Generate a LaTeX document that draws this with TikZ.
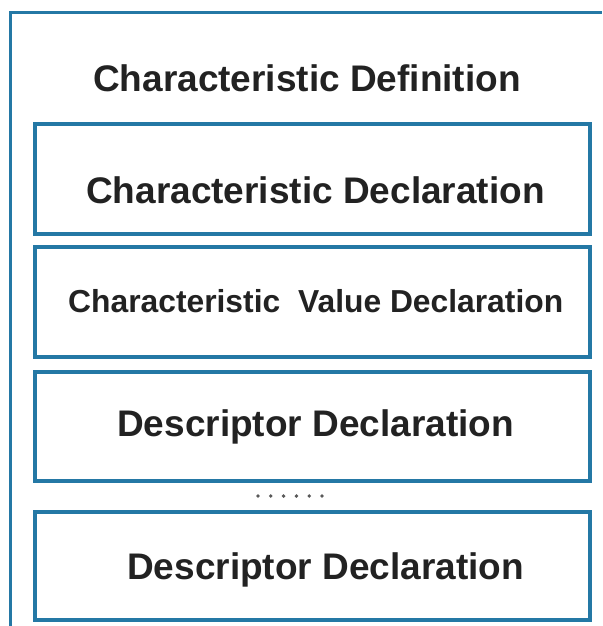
\documentclass[tikz,border=0pt]{standalone}
\usepackage{fontspec}
\setmainfont{Liberation Sans}
\definecolor{frameblue}{RGB}{36,120,165}
\definecolor{txtgray}{RGB}{34,34,34}
\begin{document}
\begin{tikzpicture}[x=1pt,y=-1pt,
  declbox/.style={draw=frameblue, line width=3.2pt, inner sep=0pt, minimum width=555pt},
  bigtxt/.style={anchor=base west, inner sep=0pt, text=txtgray, font=\fontsize{37}{44}\selectfont\bfseries},
  midtxt/.style={anchor=base west, inner sep=0pt, text=txtgray, font=\fontsize{31.8}{38}\selectfont\bfseries},
  dot/.style={circle, fill=black!65, inner sep=0pt, minimum size=3.8pt}]
\useasboundingbox (0,0) rectangle (602,626);
\fill[white] (0,0) rectangle (602,626);
% outer frame (only left and top edges visible)
\coordinate (ob) at (10,626);
\coordinate (otl) at (10,13);
\coordinate (otr) at (602,13);
\draw[frameblue, line width=3pt] (ob) -- (otl) -- (otr);
% title
\node[bigtxt] (title) at (93,92) {Characteristic Definition};
% boxes
\node[declbox, minimum height=110pt] (b1) at (312.5,179) {};
\node[declbox, minimum height=110pt] (b2) at (312.5,302) {};
\node[declbox, minimum height=109pt] (b3) at (312.5,426.5) {};
\node[declbox, minimum height=108pt] (b4) at (312.5,566) {};
% texts
\node[bigtxt] (t1) at (86,203) {Characteristic Declaration};
\node[midtxt] (t2) at (68,312) {Characteristic\hspace{9pt} Value Declaration};
\node[bigtxt] (t3) at (117,436) {Descriptor Declaration};
\node[bigtxt] (t4) at (127,579) {Descriptor Declaration};
% dots
\foreach \i in {0,...,5} {
  \node[dot] (d\i) at (258+12.8*\i,496) {};
}
\end{tikzpicture}
\end{document}
